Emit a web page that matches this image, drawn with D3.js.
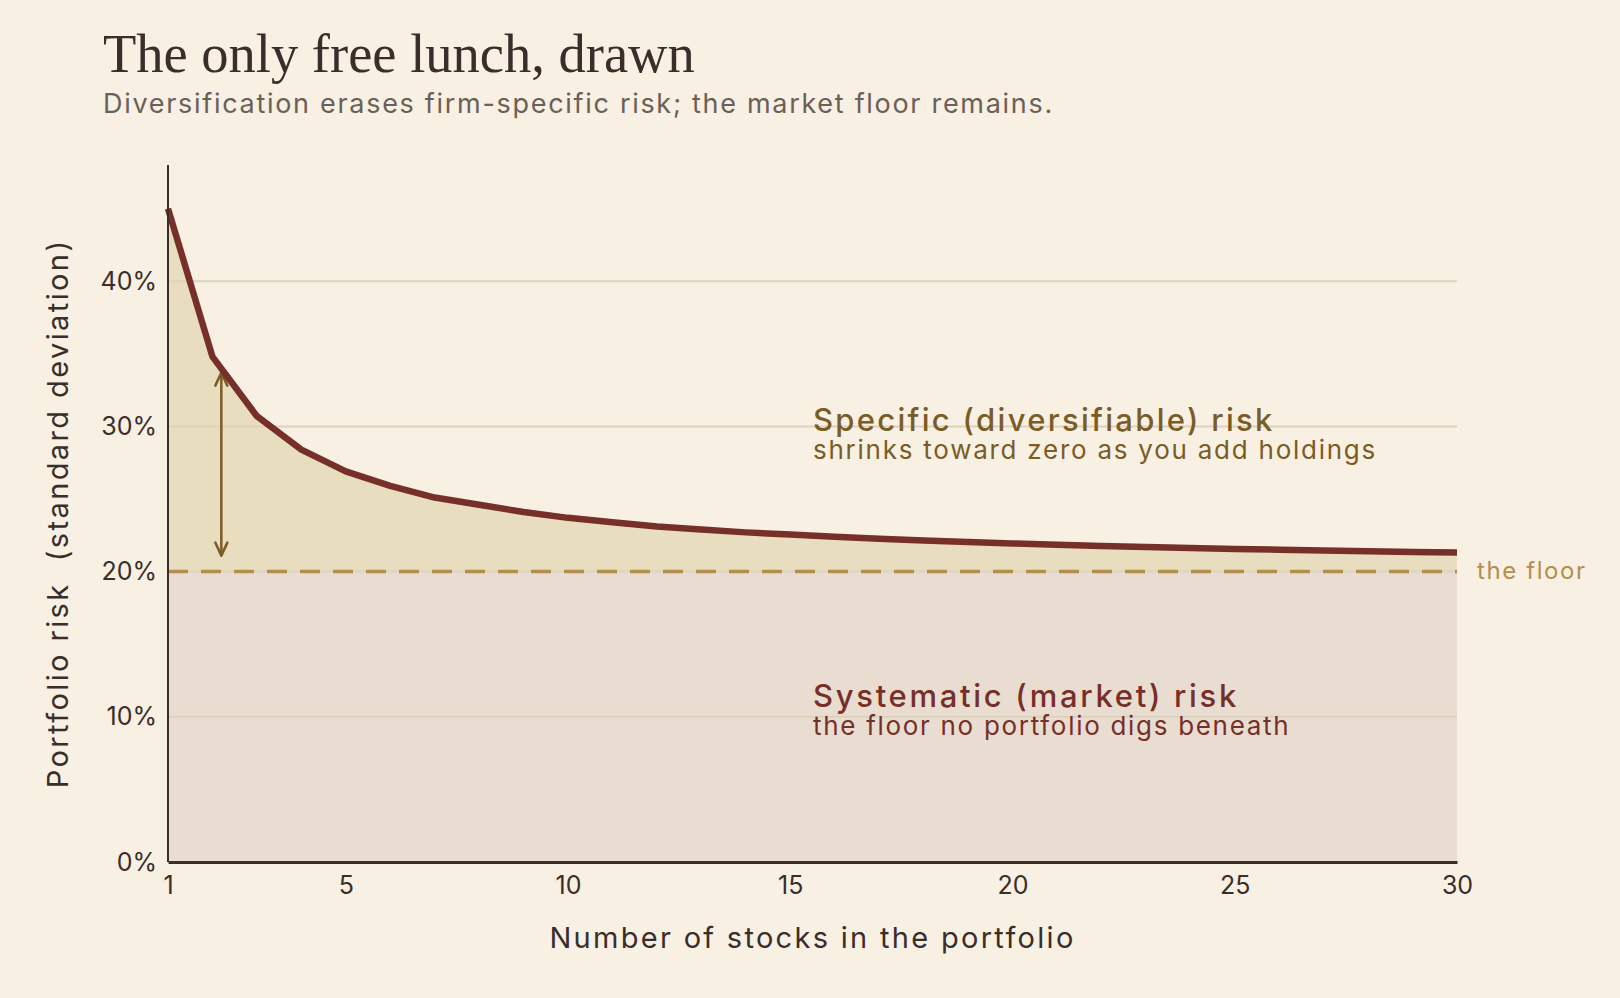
<!DOCTYPE html>
<html>
<head>
<meta charset="utf-8">
<script src="https://cdn.jsdelivr.net/npm/d3@7"></script>
<style>
  body { margin: 0; background: #f7f0e3; }
  svg { display: block; }
  text { font-family: Inter, "Open Sans", sans-serif; }
</style>
</head>
<body>
<div class="chart"></div>
<script>
// number of stocks held
const stocks = [1, 2, 3, 4, 5, 6, 7, 8, 9, 10, 11, 12, 13, 14, 15,
                16, 17, 18, 19, 20, 21, 22, 23, 24, 25, 26, 27, 28, 29, 30];
// portfolio standard deviation, %
const risk = [45.0, 34.8, 30.7, 28.4, 26.9, 25.9, 25.1, 24.6, 24.1, 23.7,
              23.4, 23.1, 22.9, 22.7, 22.55, 22.4, 22.26, 22.14, 22.03, 21.94,
              21.85, 21.77, 21.69, 21.63, 21.56, 21.51, 21.45, 21.4, 21.35, 21.31];
const floorRisk = 20;
const xTicks = [1, 5, 10, 15, 20, 25, 30];
const yTicks = [0, 10, 20, 30, 40];
// double-headed arrow marking the specific-risk gap
const arrowX = 2.2;
const arrowLow = 21.1;
const arrowHigh = 33.7;

const data = stocks.map((n, i) => ({ n: n, r: risk[i] }));

const width = 1620, height = 998;
const margin = { top: 165, right: 163, bottom: 136, left: 168 };

const svg = d3.select(".chart")
  .append("svg")
    .attr("width", width)
    .attr("height", height)
    .attr("viewBox", `0 0 ${width} ${height}`);

svg.append("rect")
    .attr("width", width)
    .attr("height", height)
    .attr("fill", "#f7f0e3");

const x = d3.scaleLinear()
    .domain([1, 30])
    .range([margin.left, width - margin.right]);

const y = d3.scaleLinear()
    .domain([0, 48])
    .range([height - margin.bottom, margin.top]);

// systematic band below the floor
svg.append("path")
    .datum(data)
    .attr("fill", "#e9ddd1")
    .attr("d", d3.area()
      .x(d => x(d.n))
      .y0(y(0))
      .y1(y(floorRisk)));

// specific risk between floor and curve
svg.append("path")
    .datum(data)
    .attr("fill", "#e8ddbe")
    .attr("d", d3.area()
      .x(d => x(d.n))
      .y0(y(floorRisk))
      .y1(d => y(d.r)));

// gridlines
svg.append("g")
  .selectAll("line")
  .data(yTicks.filter(t => t > 0))
  .join("line")
    .attr("x1", x(1))
    .attr("x2", x(30))
    .attr("y1", d => y(d))
    .attr("y2", d => y(d))
    .attr("stroke", "#ddd3bd")
    .attr("stroke-width", 2);

// the floor
svg.append("line")
    .attr("x1", x(1))
    .attr("x2", x(30))
    .attr("y1", y(floorRisk))
    .attr("y2", y(floorRisk))
    .attr("stroke", "#b38f4c")
    .attr("stroke-width", 3.5)
    .attr("stroke-dasharray", "20,13");

svg.append("text")
    .attr("x", x(30) + 20)
    .attr("y", y(floorRisk))
    .attr("dy", "0.3em")
    .attr("fill", "#b38f4c")
    .attr("font-size", 24)
    .attr("letter-spacing", 1.6)
    .text("the floor");

// arrow shaft
svg.append("line")
    .attr("x1", x(arrowX))
    .attr("x2", x(arrowX))
    .attr("y1", y(arrowHigh))
    .attr("y2", y(arrowLow))
    .attr("stroke", "#7a5c26")
    .attr("stroke-width", 2.5);

// arrow heads, pointing out of the gap
[arrowHigh, arrowLow].forEach((v, i) => {
  const dir = i === 0 ? 1 : -1;
  const px = x(arrowX), py = y(v);
  svg.append("path")
      .attr("d", `M${px - 6},${py + dir * 13} L${px},${py} L${px + 6},${py + dir * 13}`)
      .attr("fill", "none")
      .attr("stroke", "#7a5c26")
      .attr("stroke-width", 2.5)
      .attr("stroke-linecap", "round")
      .attr("stroke-linejoin", "round");
});

// risk curve
svg.append("path")
    .datum(data)
    .attr("fill", "none")
    .attr("stroke", "#772f29")
    .attr("stroke-width", 6.5)
    .attr("stroke-linejoin", "round")
    .attr("d", d3.line()
      .x(d => x(d.n))
      .y(d => y(d.r)));

// axes
const xAxis = svg.append("g")
    .attr("transform", `translate(0,${y(0)})`)
    .call(d3.axisBottom(x).tickValues(xTicks).tickSize(0).tickPadding(14));

const yAxis = svg.append("g")
    .attr("transform", `translate(${x(1)},0)`)
    .call(d3.axisLeft(y).tickValues(yTicks).tickSize(0).tickPadding(11)
      .tickFormat(d => d + "%"));

xAxis.select(".domain").attr("stroke", "#3a2e2a").attr("stroke-width", 3);
yAxis.select(".domain").attr("stroke", "#3a2e2a").attr("stroke-width", 2)
    .attr("d", `M0,${margin.top}V${y(0)}`);

svg.selectAll(".tick text")
    .attr("fill", "#3a2e2a")
    .attr("font-size", 25)
    .attr("font-family", "Inter, sans-serif");

// axis titles
svg.append("text")
    .attr("x", (x(1) + x(30)) / 2)
    .attr("y", 948)
    .attr("text-anchor", "middle")
    .attr("fill", "#3a2e2a")
    .attr("font-size", 29)
    .attr("letter-spacing", 2.3)
    .text("Number of stocks in the portfolio");

svg.append("text")
    .attr("transform", `translate(68,${(y(0) + margin.top) / 2}) rotate(-90)`)
    .attr("text-anchor", "middle")
    .attr("fill", "#3a2e2a")
    .attr("font-size", 29)
    .attr("letter-spacing", 2.4)
    .attr("xml:space", "preserve")
    .text("Portfolio risk  (standard deviation)");

// region labels
svg.append("text")
    .attr("x", 813)
    .attr("y", 431)
    .attr("fill", "#7a5c26")
    .attr("font-size", 31)
    .attr("font-weight", 500)
    .attr("letter-spacing", 2.3)
    .text("Specific (diversifiable) risk");

svg.append("text")
    .attr("x", 813)
    .attr("y", 459)
    .attr("fill", "#7a5c26")
    .attr("font-size", 26)
    .attr("letter-spacing", 1.75)
    .text("shrinks toward zero as you add holdings");

svg.append("text")
    .attr("x", 813)
    .attr("y", 707)
    .attr("fill", "#772f29")
    .attr("font-size", 31)
    .attr("font-weight", 500)
    .attr("letter-spacing", 2.7)
    .text("Systematic (market) risk");

svg.append("text")
    .attr("x", 813)
    .attr("y", 735)
    .attr("fill", "#772f29")
    .attr("font-size", 26)
    .attr("letter-spacing", 1.7)
    .text("the floor no portfolio digs beneath");

// title block
svg.append("text")
    .attr("x", 103)
    .attr("y", 72)
    .attr("fill", "#3a2e2a")
    .attr("font-size", 54.5)
    .style("font-family", "'Liberation Serif', 'DejaVu Serif', serif")
    .text("The only free lunch, drawn");

svg.append("text")
    .attr("x", 103)
    .attr("y", 113)
    .attr("fill", "#6b6058")
    .attr("font-size", 27)
    .attr("letter-spacing", 1.7)
    .text("Diversification erases firm-specific risk; the market floor remains.");
</script>
</body>
</html>
